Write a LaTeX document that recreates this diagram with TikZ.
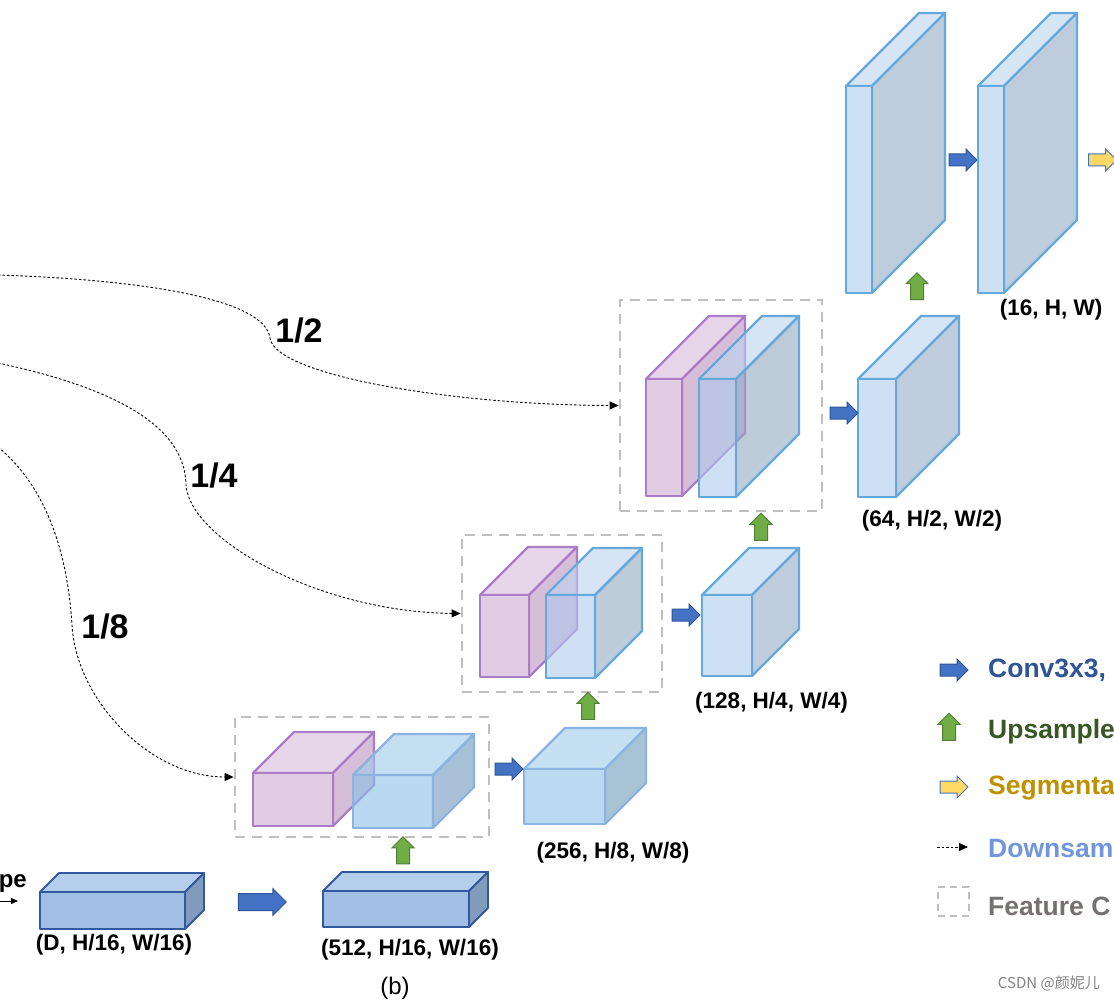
\documentclass[tikz,border=0pt]{standalone}
\usepackage{fontspec}
\setmainfont{Liberation Sans}
\newfontfamily\cjkfont{Noto Sans CJK SC}
\usetikzlibrary{arrows.meta,shapes.arrows}

% light blue (opaque)
\definecolor{cLbLine}{RGB}{100,168,220}
\definecolor{cLbFront}{RGB}{206,224,244}
\definecolor{cLbTop}{RGB}{214,229,245}
\definecolor{cLbSide}{RGB}{190,204,219}
% light blue (for transparent use)
\definecolor{cTbFront}{RGB}{175,203,237}
\definecolor{cTbTop}{RGB}{187,210,238}
\definecolor{cTbSide}{RGB}{148,170,193}
% medium blue
\definecolor{cMbLine}{RGB}{140,178,228}
\definecolor{cMbFront}{RGB}{185,218,240}
\definecolor{cMbTop}{RGB}{196,224,242}
\definecolor{cMbSide}{RGB}{168,194,214}
\definecolor{cTmFront}{RGB}{138,193,230}
\definecolor{cTmTop}{RGB}{157,203,233}
\definecolor{cTmSide}{RGB}{110,153,187}
% purple
\definecolor{cPuLine}{RGB}{170,125,200}
\definecolor{cPuFront}{RGB}{226,204,228}
\definecolor{cPuTop}{RGB}{231,213,233}
\definecolor{cPuSide}{RGB}{214,190,216}
% dark blue
\definecolor{cDbLine}{RGB}{52,88,158}
\definecolor{cDbFront}{RGB}{161,191,228}
\definecolor{cDbTop}{RGB}{181,206,235}
\definecolor{cDbSide}{RGB}{129,155,188}
% arrows
\definecolor{cConvLine}{RGB}{47,85,151}
\definecolor{cConvFill}{RGB}{68,114,196}
\definecolor{cUpLine}{RGB}{80,126,50}
\definecolor{cUpFill}{RGB}{112,173,71}
\definecolor{cSegFill}{RGB}{255,217,102}
\definecolor{cFeat}{RGB}{191,191,191}
% texts
\definecolor{tConv}{RGB}{47,85,151}
\definecolor{tUp}{RGB}{56,87,35}
\definecolor{tSeg}{RGB}{191,144,0}
\definecolor{tDown}{RGB}{114,150,220}
\definecolor{tFeat}{RGB}{118,113,113}
\definecolor{tMark}{RGB}{130,130,130}

\newcommand\cuboid[6]{%
  \filldraw[#6top] (#1,#2) -- (#1+#5,#2-#5) -- (#1+#3+#5,#2-#5) -- (#1+#3,#2) -- cycle;
  \filldraw[#6side] (#1+#3,#2) -- (#1+#3+#5,#2-#5) -- (#1+#3+#5,#2+#4-#5) -- (#1+#3,#2+#4) -- cycle;
  \filldraw[#6front] (#1,#2) rectangle (#1+#3,#2+#4);
}

\tikzset{
  lb-front/.style={draw=cLbLine, fill=cLbFront, line width=2.4pt, line join=round},
  lb-top/.style={draw=cLbLine, fill=cLbTop, line width=2.4pt, line join=round},
  lb-side/.style={draw=cLbLine, fill=cLbSide, line width=2.4pt, line join=round},
  tb-front/.style={draw=cLbLine, fill=cTbFront, fill opacity=0.6, line width=2.4pt, line join=round},
  tb-top/.style={draw=cLbLine, fill=cTbTop, fill opacity=0.6, line width=2.4pt, line join=round},
  tb-side/.style={draw=cLbLine, fill=cTbSide, fill opacity=0.6, line width=2.4pt, line join=round},
  mb-front/.style={draw=cMbLine, fill=cMbFront, line width=2.2pt, line join=round},
  mb-top/.style={draw=cMbLine, fill=cMbTop, line width=2.2pt, line join=round},
  mb-side/.style={draw=cMbLine, fill=cMbSide, line width=2.2pt, line join=round},
  tm-front/.style={draw=cMbLine, fill=cTmFront, fill opacity=0.6, line width=2.2pt, line join=round},
  tm-top/.style={draw=cMbLine, fill=cTmTop, fill opacity=0.6, line width=2.2pt, line join=round},
  tm-side/.style={draw=cMbLine, fill=cTmSide, fill opacity=0.6, line width=2.2pt, line join=round},
  pu-front/.style={draw=cPuLine, fill=cPuFront, line width=2.4pt, line join=round},
  pu-top/.style={draw=cPuLine, fill=cPuTop, line width=2.4pt, line join=round},
  pu-side/.style={draw=cPuLine, fill=cPuSide, line width=2.4pt, line join=round},
  db-front/.style={draw=cDbLine, fill=cDbFront, line width=1.8pt, line join=round},
  db-top/.style={draw=cDbLine, fill=cDbTop, line width=1.8pt, line join=round},
  db-side/.style={draw=cDbLine, fill=cDbSide, line width=1.8pt, line join=round},
  convarr/.style={single arrow, draw=cConvLine, fill=cConvFill, line width=1pt,
    inner xsep=2pt, inner ysep=5.5pt,
    minimum height=28pt, single arrow head extend=5pt},
  bigconv/.style={convarr, minimum height=48pt, inner ysep=8pt, single arrow head extend=5pt},
  segarr/.style={convarr, fill=cSegFill, draw=cConvFill},
  uparr/.style={single arrow, shape border rotate=90, draw=cUpLine, fill=cUpFill, line width=1pt,
    inner sep=6pt, minimum height=27pt, single arrow head extend=4.5pt},
  featbox/.style={draw=cFeat, line width=2.8pt, dash pattern=on 10pt off 7pt, inner sep=0pt},
  downs/.style={draw=black, line width=0.9pt, dash pattern=on 2.5pt off 2pt,
    -{Triangle[length=9pt,width=8pt]}},
  lbl/.style={font=\fontsize{22.5}{24}\selectfont\bfseries, inner sep=0pt},
  frac/.style={font=\fontsize{34}{36}\selectfont\bfseries, inner sep=0pt},
  legtxt/.style={font=\fontsize{26.5}{28}\selectfont\bfseries, inner sep=0pt, anchor=base west},
}

\begin{document}
\begin{tikzpicture}[x=1pt,y=-1pt]
\useasboundingbox (0,0) rectangle (1114,1000);
\fill[white] (0,0) rectangle (1114,1000);
\clip (0,0) rectangle (1114,1000);

% feature concat boxes
\node[featbox, minimum width=202pt, minimum height=211pt] (box12) at (721,405.5) {};
\node[featbox, minimum width=200pt, minimum height=157pt] (box14) at (562,613.5) {};
\node[featbox, minimum width=254pt, minimum height=120pt] (box18) at (362,777) {};

% top blocks (16,H,W)
\cuboid{846}{86}{26}{207}{73}{lb-}
\cuboid{978}{86}{26}{207}{73}{lb-}
% (64,H/2,W/2)
\cuboid{858}{379}{38}{118}{63}{lb-}
% cluster 1/2
\cuboid{646}{379}{36}{117}{63}{pu-}
\cuboid{699}{379}{37}{118}{63}{tb-}
% cluster 1/4
\cuboid{480}{595}{49}{82}{48}{pu-}
\cuboid{546}{595}{49}{83}{47}{tb-}
% (128,H/4,W/4)
\cuboid{702}{595}{50}{81}{47}{lb-}
% cluster 1/8
\cuboid{253}{773}{80}{53}{41}{pu-}
\cuboid{353}{775}{80}{53}{41}{tm-}
% (256,H/8,W/8)
\cuboid{524}{769}{81}{55}{41}{mb-}
% (512,H/16,W/16)
\cuboid{323}{891}{146}{36}{19}{db-}
% (D,H/16,W/16)
\cuboid{40}{892}{145}{37}{19}{db-}

% block arrows
\node[convarr] (conv1) at (960,160) {};
\node[segarr] (seg1) at (1099.5,160) {};
\node[convarr] (conv2) at (841,413) {};
\node[convarr] (conv3) at (683,615) {};
\node[convarr] (conv4) at (506,769) {};
\node[bigconv] (conv5) at (258,902) {};
\node[uparr] (up1) at (917,289.5) {};
\node[uparr] (up2) at (761,530) {};
\node[uparr] (up3) at (588,709) {};
\node[uparr] (up4) at (403,853.5) {};

% downsample skip connections
\coordinate (s12) at (-2,275);
\coordinate (k12) at (270,338);
\draw[downs] (s12) .. controls (150,280) and (265,300) .. (k12)
  .. controls (275,375) and (450,405) .. (box12.west);
\coordinate (s14) at (-2,363);
\coordinate (k14) at (186,485);
\draw[downs] (s14) .. controls (100,385) and (185,420) .. (k14)
  .. controls (190,540) and (320,612) .. (box14.west);
\coordinate (s18) at (-2,447);
\coordinate (k18) at (72,625);
\draw[downs] (s18) .. controls (50,490) and (68,560) .. (k18)
  .. controls (76,700) and (150,777) .. (box18.west);

\node[frac] (f12) at (299,331) {1/2};
\node[frac] (f14) at (214,476) {1/4};
\node[frac] (f18) at (105,627) {1/8};

% shape labels
\node[lbl] (l16) at (1051,310) {(16, H, W)};
\node[lbl] (l64) at (932,521) {(64, H/2, W/2)};
\node[lbl] (l128) at (771.5,703) {(128, H/4, W/4)};
\node[lbl] (l256) at (613,853) {(256, H/8, W/8)};
\node[lbl] (l512) at (410,950) {(512, H/16, W/16)};
\node[lbl] (lD) at (114,945) {(D, H/16, W/16)};
\node[font=\fontsize{24}{26}\selectfont, inner sep=0pt] (lb) at (395,988) {(b)};

% cut-off input text and arrow
\node[font=\fontsize{24}{26}\selectfont\bfseries, inner sep=0pt, anchor=base east] (pe) at (27,887) {pe};
\coordinate (pe1) at (-3,901);
\coordinate (pe2) at (18,901);
\draw[line width=1pt, -{Triangle[length=7pt,width=6pt]}] (pe1) -- (pe2);

% legend
\node[convarr] (legconv) at (951,670) {};
\node[uparr] (legup) at (949,730) {};
\node[segarr] (legseg) at (951,787) {};
\coordinate (ld1) at (937,847);
\coordinate (ld2) at (968,847);
\draw[downs] (ld1) -- (ld2);
\node[featbox, minimum width=31pt, minimum height=29pt, dash pattern=on 7pt off 5pt] (legbox) at (953.5,901.5) {};

\node[legtxt, text=tConv] (t1) at (988,677) {Conv3x3,};
\node[legtxt, text=tUp] (t2) at (988,738) {Upsample};
\node[legtxt, text=tSeg] (t3) at (988,794) {Segmenta};
\node[legtxt, text=tDown] (t4) at (988,857) {Downsam};
\node[legtxt, text=tFeat] (t5) at (988,915) {Feature C};

% watermark
\node[font=\cjkfont\fontsize{15}{17}\selectfont, text=tMark, inner sep=0pt, anchor=east] (wm) at (1100,983) {CSDN @颜妮儿};
\end{tikzpicture}
\end{document}
